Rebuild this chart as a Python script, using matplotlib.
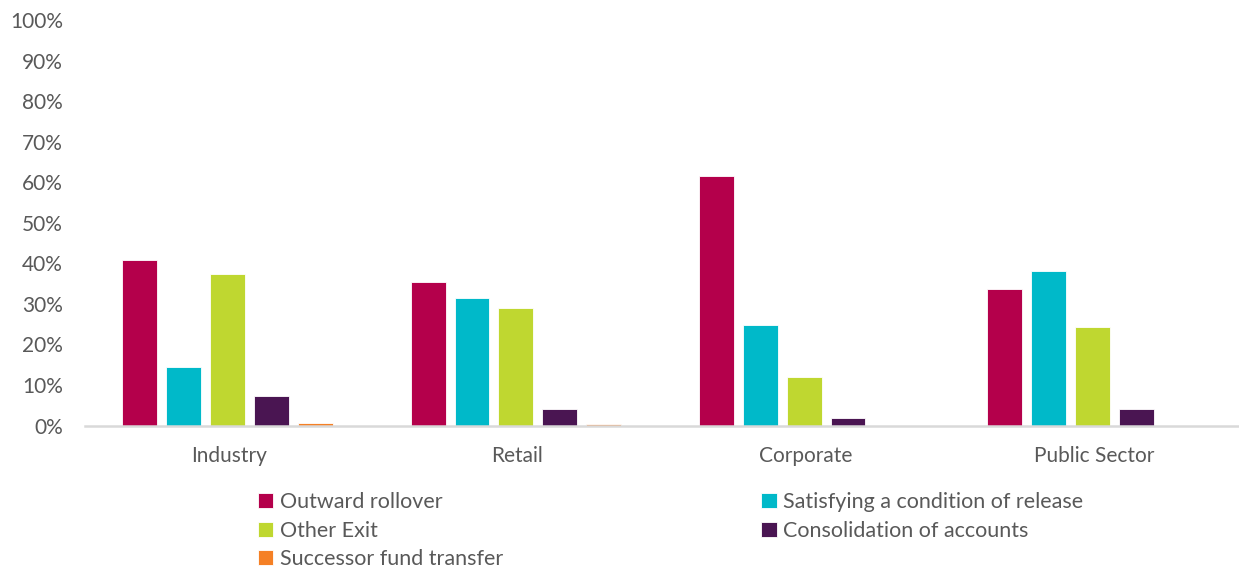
import numpy as np
import matplotlib
matplotlib.use("Agg")
import matplotlib.pyplot as plt
from matplotlib.ticker import PercentFormatter

plt.rcParams["font.family"] = ["Lato", "DejaVu Sans"]

# Exit type shares by fund sector
sectors = ["Industry", "Retail", "Corporate", "Public Sector"]
series_names = [
    "Outward rollover",
    "Satisfying a condition of release",
    "Other Exit",
    "Consolidation of accounts",
    "Successor fund transfer",
]
outward_rollover = [40.8, 35.4, 61.6, 33.6]
condition_of_release = [14.4, 31.4, 24.8, 38.1]
other_exit = [37.4, 29.0, 12.0, 24.2]
consolidation = [7.2, 4.1, 1.9, 4.2]
successor_transfer = [0.6, 0.5, 0.0, 0.0]

colors = ["#B4004B", "#00B9C9", "#BFD730", "#4A1552", "#F58025"]
text_grey = "#595959"

values = [outward_rollover, condition_of_release, other_exit,
          consolidation, successor_transfer]

fig = plt.figure(figsize=(12.39, 5.72), dpi=100)
ax = fig.add_axes([0.0686, 0.256, 0.931, 0.709])

x = np.arange(len(sectors))
step = 0.152
width = 0.121
handles = []
for i, (name, vals, col) in enumerate(zip(series_names, values, colors)):
    offs = (i - 2) * step
    b = ax.bar(x + offs - 0.006, np.array(vals) / 100, width, color=col,
               edgecolor="#FFFFFF", linewidth=0.6, label=name, zorder=2)
    handles.append(b)

ax.set_xlim(-0.5, len(sectors) - 0.5)
ax.set_ylim(0, 1)
ax.set_yticks(np.arange(0, 1.01, 0.1))
ax.yaxis.set_major_formatter(PercentFormatter(1.0, decimals=0))
ax.set_xticks(x)
ax.set_xticklabels(sectors)

for s in ["top", "right", "left"]:
    ax.spines[s].set_visible(False)
ax.spines["bottom"].set_color("#D9D9D9")
ax.spines["bottom"].set_linewidth(1.8)
ax.spines["bottom"].set_zorder(3)

ax.tick_params(axis="both", length=0, labelsize=15, colors=text_grey)
ax.tick_params(axis="x", pad=15)
ax.tick_params(axis="y", pad=16)

# Excel-style row ordering in a 2-column legend
order = [0, 2, 4, 1, 3]
leg = fig.legend([handles[i] for i in order], [series_names[i] for i in order],
                 ncol=2, loc="upper left", bbox_to_anchor=(0.2085, 0.139),
                 frameon=False, fontsize=15.5, handlelength=0.7, handleheight=0.7,
                 handletextpad=0.3, columnspacing=12.0, labelspacing=0.38,
                 borderaxespad=0, borderpad=0)
for t in leg.get_texts():
    t.set_color(text_grey)

fig.savefig("out.png", dpi=100, facecolor="white")
